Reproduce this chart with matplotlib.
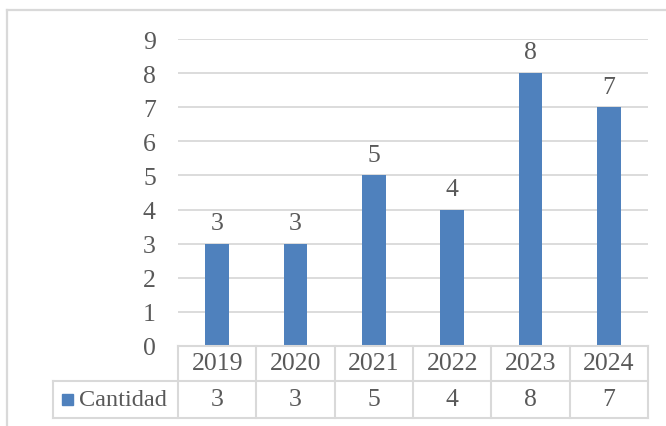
import numpy as np
import matplotlib.pyplot as plt
from matplotlib.patches import Rectangle
import matplotlib.transforms as mtransforms

anios = ["2019", "2020", "2021", "2022", "2023", "2024"]
cantidad = [3, 3, 5, 4, 8, 7]
serie = "Cantidad"

azul = "#4F81BD"
gris_txt = "#595959"
gris_lin = "#D9D9D9"
fs = 18.5

plt.rcParams['font.family'] = ['Liberation Serif', 'DejaVu Serif']

fig = plt.figure(figsize=(6.66, 4.27), dpi=100)
ax = fig.add_axes([178 / 666, 1 - 347 / 427, 470 / 666, 307 / 427])

x = np.arange(len(anios))
ax.bar(x, cantidad, width=0.30, color=azul, zorder=3)
for xi, v in zip(x, cantidad):
    ax.annotate(str(v), (xi, v), xytext=(0, 7), textcoords="offset points",
                ha="center", va="bottom", fontsize=fs, color=gris_txt)

ax.set_xlim(-0.5, len(anios) - 0.5)
ax.set_ylim(0, 9)
ax.set_yticks(range(0, 10))
ax.yaxis.grid(True, color=gris_lin, lw=1.3)
ax.set_axisbelow(True)
ax.set_xticks([])
ax.tick_params(axis="y", length=0, pad=16, labelsize=fs, labelcolor=gris_txt)
for s in ax.spines.values():
    s.set_visible(False)

# tabla de datos
tr = mtransforms.blended_transform_factory(ax.transData, ax.transAxes)
fila1 = -35 / 307
fila2 = -72 / 307
izq = -125 / 470
kw = dict(color=gris_lin, lw=1.5, clip_on=False, zorder=4)
ax.plot([-0.5, len(anios) - 0.5], [0, 0], transform=tr, **kw)
ax.plot([izq, 1], [fila1, fila1], transform=ax.transAxes, **kw)
ax.plot([izq, 1], [fila2, fila2], transform=ax.transAxes, **kw)
ax.plot([izq, izq], [fila1, fila2], transform=ax.transAxes, **kw)
for b in np.arange(len(anios) + 1) - 0.5:
    ax.plot([b, b], [0, fila2], transform=tr, **kw)
for xi, a, v in zip(x, anios, cantidad):
    ax.text(xi, fila1 / 2, a, transform=tr, ha="center", va="center",
            fontsize=fs, color=gris_txt)
    ax.text(xi, (fila1 + fila2) / 2, str(v), transform=tr, ha="center",
            va="center", fontsize=fs, color=gris_txt)

ax.add_patch(Rectangle((-116 / 470, (fila1 + fila2) / 2 - 5.5 / 307), 11 / 470, 11 / 307,
                       transform=ax.transAxes, color=azul, clip_on=False))
ax.text(-99 / 470, (fila1 + fila2) / 2, serie, transform=ax.transAxes,
        ha="left", va="center", fontsize=17.5, color=gris_txt)

# marco exterior
fig.add_artist(plt.Line2D([7 / 666, 7 / 666], [0, 1 - 10.5 / 427], color=gris_lin, lw=1.6))
fig.add_artist(plt.Line2D([7 / 666, 1], [1 - 10.5 / 427, 1 - 10.5 / 427], color=gris_lin, lw=1.6))

fig.savefig("out.png", dpi=100)
